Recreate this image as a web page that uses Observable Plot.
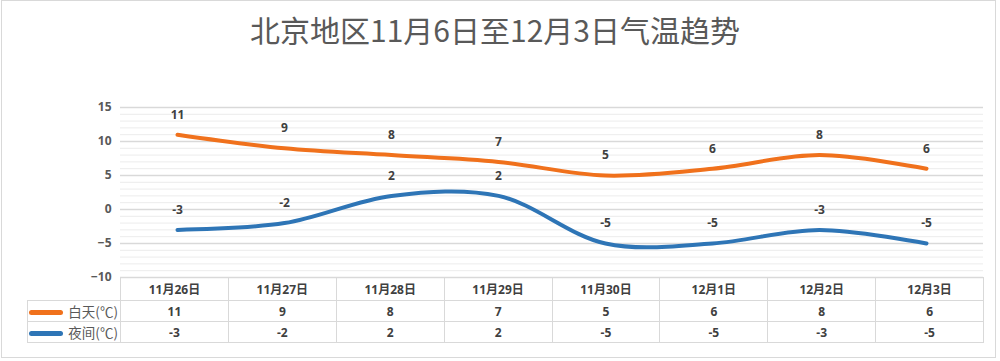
<!DOCTYPE html>
<html>
<head>
<meta charset="utf-8">
<script src="https://cdn.jsdelivr.net/npm/d3@7"></script>
<script src="https://cdn.jsdelivr.net/npm/@observablehq/plot@0.6"></script>
<style>
  html, body { margin: 0; padding: 0; background: #fff; }
  #wrap { position: relative; width: 1000px; height: 361px; overflow: hidden; font-family: "Open Sans", "Noto Sans CJK SC", sans-serif; }
  #frame { position: absolute; left: 1px; top: 0px; width: 995px; height: 358px; border: 1px solid #d9d9d9; box-sizing: border-box; pointer-events: none; }
  #title { position: absolute; left: 0; width: 990px; top: 9px; text-align: center; font-family: "Noto Sans CJK SC", sans-serif; font-size: 30px; color: #595959; line-height: 40px; }
  #chart { position: absolute; left: 0; top: 0; }
  #tbl { position: absolute; border-collapse: collapse; table-layout: fixed; font-size: 12px; color: #404040; }
  #tbl td { border: 1px solid #d9d9d9; text-align: center; font-weight: bold; padding: 0; height: 20px; box-sizing: border-box; white-space: nowrap; overflow: hidden; }
  #tbl td.blank { border: none; }
  #tbl td.leg { text-align: right; font-weight: normal; font-size: 13.5px; color: #595959; padding-right: 2px; font-family: "Noto Sans CJK SC", sans-serif; }
  .sw { display: inline-block; width: 34px; height: 5px; border-radius: 3px; vertical-align: middle; margin-right: 5px; position: relative; top: -1px; }
</style>
</head>
<body>
<div id="wrap">
  <div id="title">北京地区11月6日至12月3日气温趋势</div>
  <div id="chart"></div>
  <div id="frame"></div>
</div>
<script>
const dates = ["11月26日","11月27日","11月28日","11月29日","11月30日","12月1日","12月2日","12月3日"];
const dayTemps = [11, 9, 8, 7, 5, 6, 8, 6];
const nightTemps = [-3, -2, 2, 2, -5, -5, -3, -5];
const seriesNames = ["白天(℃)", "夜间(℃)"];
const seriesColors = ["#F0711C", "#2E75B6"];
const yTicks = [-10, -5, 0, 5, 10, 15];
const yMinorTicks = d3.range(-10, 16, 1);

const rows = dates.map((d, i) => ({date: d, day: dayTemps[i], night: nightTemps[i]}));

const plot = Plot.plot({
  width: 1000,
  height: 361,
  marginLeft: 120,
  marginRight: 17,
  marginTop: 107,
  marginBottom: 84,
  style: {fontFamily: "'Open Sans', 'Noto Sans CJK SC', sans-serif", background: "transparent"},
  x: {type: "point", domain: dates, padding: 0.5, axis: null},
  y: {domain: [-10, 15], axis: null},
  marks: [
    Plot.ruleY(yMinorTicks.filter(v => v % 5 !== 0), {stroke: "#ececec", strokeWidth: 1}),
    Plot.ruleY(yTicks, {stroke: "#d9d9d9", strokeWidth: 1.3}),
    Plot.axisY(yTicks, {tickSize: 0, tickPadding: 9, fontSize: 12, fontWeight: "bold", fill: "#595959", label: null}),
    Plot.line(rows, {x: "date", y: "day", curve: "catmull-rom", stroke: seriesColors[0], strokeWidth: 4, strokeLinecap: "round"}),
    Plot.line(rows, {x: "date", y: "night", curve: "catmull-rom", stroke: seriesColors[1], strokeWidth: 4, strokeLinecap: "round"}),
    Plot.text(rows, {x: "date", y: "day", text: d => String(d.day), dy: -20, fontSize: 12, fontWeight: "bold", fill: "#404040"}),
    Plot.text(rows, {x: "date", y: "night", text: d => String(d.night), dy: -20, fontSize: 12, fontWeight: "bold", fill: "#404040"})
  ]
});
document.getElementById("chart").appendChild(plot);

// Data table aligned with the x scale
const xs = plot.scale("x");
const step = (xs.range[1] - xs.range[0]) / dates.length;
const left0 = xs.range[0];
const legLeft = 27;
const tbl = document.createElement("table");
tbl.id = "tbl";
tbl.style.left = legLeft + "px";
tbl.style.top = "277px";
const cg = document.createElement("colgroup");
const c0 = document.createElement("col"); c0.style.width = (left0 - legLeft) + "px"; cg.appendChild(c0);
dates.forEach(() => { const c = document.createElement("col"); c.style.width = step + "px"; cg.appendChild(c); });
tbl.appendChild(cg);
tbl.style.width = (left0 - legLeft + step * dates.length) + "px";
const hr = document.createElement("tr");
const blank = document.createElement("td"); blank.className = "blank"; hr.appendChild(blank);
dates.forEach(d => { const td = document.createElement("td"); td.textContent = d; td.style.height = "23px"; hr.appendChild(td); });
tbl.appendChild(hr);
[dayTemps, nightTemps].forEach((vals, k) => {
  const tr = document.createElement("tr");
  const lg = document.createElement("td"); lg.className = "leg";
  const sw = document.createElement("span"); sw.className = "sw"; sw.style.background = seriesColors[k];
  lg.appendChild(sw); lg.appendChild(document.createTextNode(seriesNames[k]));
  tr.appendChild(lg);
  vals.forEach(v => { const td = document.createElement("td"); td.textContent = String(v); td.style.height = "21px"; tr.appendChild(td); });
  tbl.appendChild(tr);
});
document.getElementById("wrap").appendChild(tbl);
</script>
</body>
</html>
